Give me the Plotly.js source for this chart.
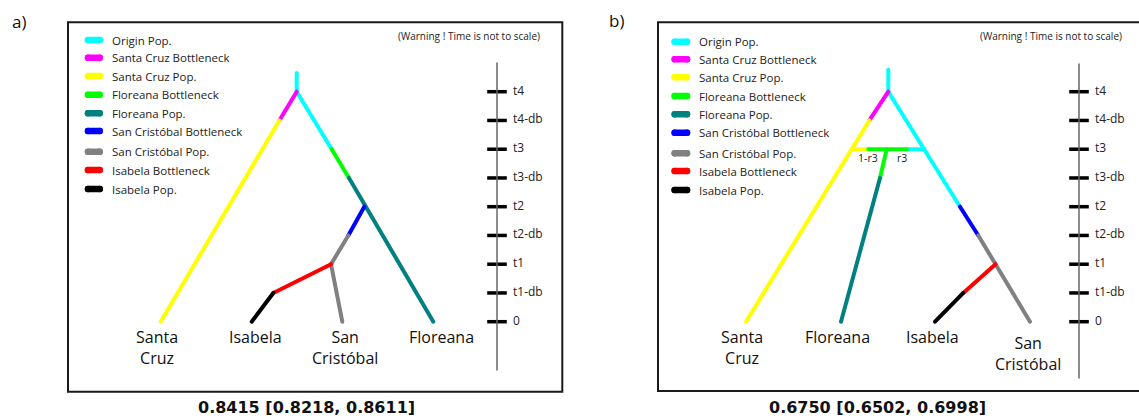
<!DOCTYPE html>
<html>
<head>
<meta charset="utf-8">
<script src="https://cdn.plot.ly/plotly-3.0.1.min.js"></script>
<style>html,body{margin:0;padding:0;background:#fff;}#chart{width:1139px;height:419px;}
#chart .js-line{stroke-linecap:round;stroke-linejoin:round;}</style>
</head>
<body>
<div id="chart"></div>
<script>
// ---------- DATA ----------
const popNames = ['Origin Pop.','Santa Cruz Bottleneck','Santa Cruz Pop.','Floreana Bottleneck','Floreana Pop.','San Cristóbal Bottleneck','San Cristóbal Pop.','Isabela Bottleneck','Isabela Pop.'];
const timeTicks = [0,1,2,3,4,5,6,7,8];
const timeLabels = ['0','t1-db','t1','t2-db','t2','t3-db','t3','t4-db','t4'];
const scoreA = '0.8415 [0.8218, 0.8611]';
const scoreB = '0.6750 [0.6502, 0.6998]';
const tipsA = ['Santa<br>Cruz','Isabela','San<br>Cristóbal','Floreana'];
const tipsB = ['Santa<br>Cruz','Floreana','Isabela','San<br>Cristóbal'];
const admixLabels = ['1-r3','r3'];

// Panel a branches: horizontal position, time (tick index)
const aOriginX = [296.7,296.7,331.7];  const aOriginT = [8.65,8,6];
const aSCBotX  = [296.7,279.3];        const aSCBotT  = [8,7];
const aSCPopX  = [279.3,160.7];        const aSCPopT  = [7,0];
const aFlBotX  = [331.7,349];          const aFlBotT  = [6,5];
const aFlPopX  = [349,433.3];          const aFlPopT  = [5,0];
const aSCrBotX = [364.3,348.3];        const aSCrBotT = [4,3];
const aSCrPopX = [348.3,331,342.3];    const aSCrPopT = [3,2,0];
const aIsBotX  = [331,273.3];          const aIsBotT  = [2,1];
const aIsPopX  = [273.3,251.7];        const aIsPopT  = [1,0];

// Panel b branches
const bOriginX = [888.3,888.3,960,null,906.7,924.2]; const bOriginT = [8.76,8,4,null,6,6];
const bSCBotX  = [888.3,869.3];        const bSCBotT  = [8,7];
const bSCPopX  = [869.3,746,null,852.7,868.3]; const bSCPopT = [7,0,null,6,6];
const bFlBotX  = [868.3,906.7,null,886.7,880]; const bFlBotT = [6,6,null,6,5];
const bFlPopX  = [880,841];            const bFlPopT  = [5,0];
const bSCrBotX = [960,978.3];          const bSCrBotT = [4,3];
const bSCrPopX = [978.3,995.5,1030];   const bSCrPopT = [3,2,0];
const bIsBotX  = [995.5,963.3];        const bIsBotT  = [2,1];
const bIsPopX  = [963.3,935];          const bIsPopT  = [1,0];

// ---------- STYLE / LAYOUT ----------
const popColors = ['#00FFFF','#FF00FF','#FFFF00','#00FF00','#008080','#0000FF','#808080','#FF0000','#000000'];
const FONT = 'Open Sans, Noto Sans, sans-serif';
const legendYA = [40,57.7,76,94.7,113.3,131,151.7,170,189];
const legendYB = [41.7,59.3,77.3,96,114.3,132.7,153.3,171,190];
const legendXA = [88,99.7], legendTextXA = 110;
const legendXB = [674.7,687], legendTextXB = 697;
const tipXA = [157,255,345,441.7], tipYA = [347,337,347,337];
const tipXB = [741.7,837.3,932.3,1027.7], tipYB = [347,337,337,353];
const axisA = {x:497, top:63, bottom:370, labelX:513};
const axisB = {x:1079, top:64, bottom:378, labelX:1095};

const treeA = [[aOriginX,aOriginT],[aSCBotX,aSCBotT],[aSCPopX,aSCPopT],[aFlBotX,aFlBotT],[aFlPopX,aFlPopT],[aSCrBotX,aSCrBotT],[aSCrPopX,aSCrPopT],[aIsBotX,aIsBotT],[aIsPopX,aIsPopT]];
const treeB = [[bOriginX,bOriginT],[bSCBotX,bSCBotT],[bSCPopX,bSCPopT],[bFlBotX,bFlBotT],[bFlPopX,bFlPopT],[bSCrBotX,bSCrBotT],[bSCrPopX,bSCrPopT],[bIsBotX,bIsBotT],[bIsPopX,bIsPopT]];

const traces = [];
function addTree(tree){
  tree.forEach((b,i)=>{
    traces.push({x:b[0], y:b[1], mode:'lines', type:'scatter', name:popNames[i],
      line:{color:popColors[i], width:4}, showlegend:false, hoverinfo:'skip', connectgaps:false});
  });
}
addTree(treeA); addTree(treeB);

function addLegend(xs, ys){
  popNames.forEach((n,i)=>{
    traces.push({x:xs, y:[ys[i],ys[i]], yaxis:'y2', mode:'lines+markers', type:'scatter',
      line:{color:popColors[i], width:6.5}, marker:{color:popColors[i], size:6.5, line:{width:0}},
      showlegend:false, hoverinfo:'skip'});
  });
}
addLegend(legendXA, legendYA); addLegend(legendXB, legendYB);

function addAxis(ax){
  traces.push({x:[ax.x,ax.x], y:[ax.top,ax.bottom], yaxis:'y2', mode:'lines', type:'scatter',
    line:{color:'#666', width:1.5}, showlegend:false, hoverinfo:'skip'});
  traces.push({x:timeTicks.map(()=>ax.x), y:timeTicks, mode:'markers', type:'scatter',
    marker:{symbol:'line-ew', size:14, line:{width:3.5, color:'#000'}}, showlegend:false, hoverinfo:'skip'});
  traces.push({x:timeTicks.map(()=>ax.labelX), y:timeTicks, mode:'text', type:'scatter',
    text:timeLabels, textposition:'middle right', textfont:{family:FONT, size:12, color:'#222'},
    showlegend:false, hoverinfo:'skip'});
}
addAxis(axisA); addAxis(axisB);

const annotations = [];
function addLegendText(tx, ys){
  popNames.forEach((n,i)=>annotations.push({x:tx, y:ys[i], xref:'x', yref:'y2', text:n, showarrow:false,
    xanchor:'left', yanchor:'middle', font:{family:FONT, size:11.5, color:'#222'}}));
}
addLegendText(legendTextXA, legendYA); addLegendText(legendTextXB, legendYB);
function addTips(labels, xs, ys){
  labels.forEach((t,i)=>annotations.push({x:xs[i], y:ys[i], xref:'x', yref:'y2', text:t, showarrow:false,
    xanchor:'center', yanchor:'middle', font:{family:FONT, size:16, color:'#111'}}));
}
addTips(tipsA, tipXA, tipYA); addTips(tipsB, tipXB, tipYB);
annotations.push({x:469, y:36, xref:'x', yref:'y2', text:'(Warning ! Time is not to scale)', showarrow:false, xanchor:'center', yanchor:'middle', font:{family:FONT, size:10, color:'#222'}});
annotations.push({x:1051.3, y:36, xref:'x', yref:'y2', text:'(Warning ! Time is not to scale)', showarrow:false, xanchor:'center', yanchor:'middle', font:{family:FONT, size:10, color:'#222'}});
annotations.push({x:306.7, y:407, xref:'x', yref:'y2', text:'<b>'+scoreA+'</b>', showarrow:false, xanchor:'center', yanchor:'middle', font:{family:'DejaVu Sans', size:16, color:'#111'}});
annotations.push({x:877.5, y:407, xref:'x', yref:'y2', text:'<b>'+scoreB+'</b>', showarrow:false, xanchor:'center', yanchor:'middle', font:{family:'DejaVu Sans', size:16, color:'#111'}});
annotations.push({x:868, y:158.3, xref:'x', yref:'y2', text:admixLabels[0], showarrow:false, xanchor:'center', yanchor:'middle', font:{family:FONT, size:10.5, color:'#222'}});
annotations.push({x:901.7, y:158.3, xref:'x', yref:'y2', text:admixLabels[1], showarrow:false, xanchor:'center', yanchor:'middle', font:{family:FONT, size:10.5, color:'#222'}});
annotations.push({x:19, y:21, xref:'x', yref:'y2', text:'a)', showarrow:false, xanchor:'center', yanchor:'middle', font:{family:FONT, size:17, color:'#111'}});
annotations.push({x:616, y:20, xref:'x', yref:'y2', text:'b)', showarrow:false, xanchor:'center', yanchor:'middle', font:{family:FONT, size:17, color:'#111'}});

const shapes = [
  {type:'rect', xref:'x', yref:'y2', x0:68, x1:562.3, y0:22.3, y1:391.7, line:{color:'#1a1a1a', width:2}, layer:'below'},
  {type:'rect', xref:'x', yref:'y2', x0:658, x1:1150, y0:22.3, y1:391, line:{color:'#1a1a1a', width:2}, layer:'below'}
];

const layout = {
  width:1139, height:419, margin:{l:0,r:0,t:0,b:0},
  paper_bgcolor:'#fff', plot_bgcolor:'#fff', showlegend:false,
  xaxis:{range:[0,1139], visible:false, fixedrange:true},
  yaxis:{range:[-3.3843,11.19], visible:false, fixedrange:true},
  yaxis2:{range:[419,0], visible:false, overlaying:'y', fixedrange:true},
  annotations:annotations, shapes:shapes
};
Plotly.newPlot('chart', traces, layout, {staticPlot:true, displayModeBar:false});
</script>
</body>
</html>
